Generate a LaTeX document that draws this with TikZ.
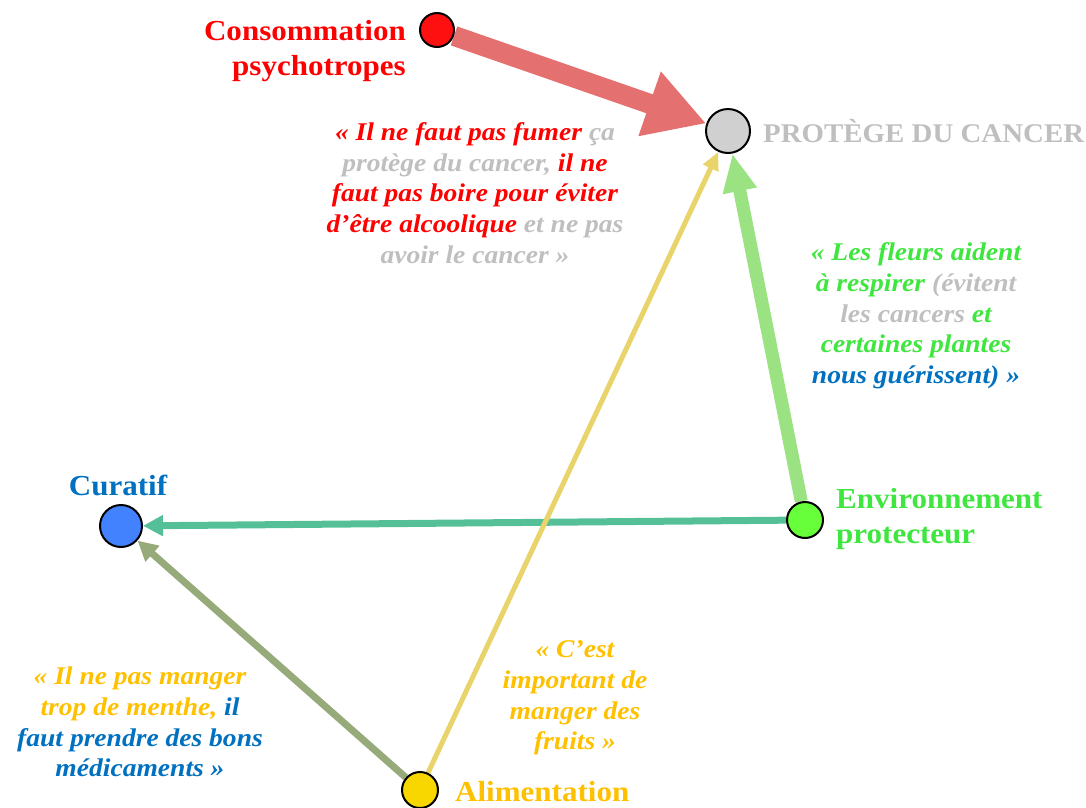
\documentclass[tikz,border=0pt]{standalone}
\usepackage{fontspec}
\setmainfont{Liberation Serif}
\newfontfamily\lblfont{Liberation Serif}[FakeStretch=1.07]
\newfontfamily\qfont{Liberation Serif}[FakeStretch=1.08]
\usetikzlibrary{arrows.meta,backgrounds}
\definecolor{tred}{HTML}{FF0000}
\definecolor{tgray}{HTML}{BFBFBF}
\definecolor{tgreen}{HTML}{40E640}
\definecolor{tblue}{HTML}{0070C0}
\definecolor{tgold}{HTML}{FFC000}
\definecolor{ared}{HTML}{E57070}
\definecolor{agreen}{HTML}{9AE282}
\definecolor{ayellow}{HTML}{E8D46A}
\definecolor{ateal}{HTML}{55C098}
\definecolor{aolive}{HTML}{96AA7A}
\definecolor{nred}{HTML}{FF1010}
\definecolor{ngray}{HTML}{D0D0D0}
\definecolor{nblue}{HTML}{4382FF}
\definecolor{ngreen}{HTML}{66FF3A}
\definecolor{nyellow}{HTML}{F8D600}
\begin{document}
\begin{tikzpicture}[x=1pt,y=-1pt,
  dot/.style={circle,draw=black,line width=2pt,inner sep=0pt},
  lbl/.style={font=\lblfont\bfseries\fontsize{29}{35}\selectfont,align=left,inner sep=0pt},
  quote/.style={font=\qfont\bfseries\itshape\fontsize{25.5}{30.7}\selectfont,align=center,inner sep=0pt},
  conn/.style={draw,line cap=butt}
]
\useasboundingbox (0,0) rectangle (1086,807);

% nodes
\node[dot,fill=nred,minimum size=34pt] (cons) at (437,30) {};
\node[dot,fill=ngray,minimum size=44pt] (prot) at (728,131) {};
\node[dot,fill=nblue,minimum size=42pt] (cur) at (121,526) {};
\node[dot,fill=ngreen,minimum size=36pt] (env) at (805,520) {};
\node[dot,fill=nyellow,minimum size=36pt] (alim) at (420,790) {};

% connectors
\begin{pgfonlayer}{background}
\draw[conn,ateal,line width=7pt,-{Triangle[length=20pt,width=20pt]}] (env) -- (cur);
\draw[conn,aolive,line width=7pt,-{Triangle[length=20pt,width=20pt]}] (alim) -- (cur);
\draw[conn,ayellow,line width=5pt,-{Triangle[length=18pt,width=16pt]}] (alim) -- (prot);
\draw[conn,agreen,line width=13pt,-{Triangle[length=38pt,width=32pt]}] (env) -- (prot);
\draw[conn,ared,line width=20pt,-{Triangle[length=60pt,width=64pt]}] (cons) -- (prot);
\end{pgfonlayer}

% labels
\node[lbl,text=tred,anchor=east,align=right] (lcons) at (406,51) {Consommation\\psychotropes};
\node[lbl,text=tgray,anchor=west,font=\lblfont\bfseries\fontsize{27}{33}\selectfont] (lprot) at (763,131) {PROTÈGE DU CANCER};
\node[lbl,text=tblue] (lcur) at (118,485) {Curatif};
\node[lbl,text=tgreen,anchor=west] (lenv) at (836,519) {Environnement\\protecteur};
\node[lbl,text=tgold,anchor=west] (lalim) at (455,792) {Alimentation};

% quotes
\node[quote] (q1) at (475,193) {%
\textcolor{tred}{« Il ne faut pas fumer} \textcolor{tgray}{ça}\\
\textcolor{tgray}{protège du cancer,} \textcolor{tred}{il ne}\\
\textcolor{tred}{faut pas boire pour éviter}\\
\textcolor{tred}{d’être alcoolique} \textcolor{tgray}{et ne pas}\\
\textcolor{tgray}{avoir le cancer »}};
\node[quote] (q2) at (916,316) {%
\textcolor{tgreen}{« Les fleurs aident}\\
\textcolor{tgreen}{à respirer} \textcolor{tgray}{(évitent}\\
\textcolor{tgray}{les cancers} \textcolor{tgreen}{et}\\
\textcolor{tgreen}{certaines plantes}\\
\textcolor{tblue}{nous guérissent) »}};
\node[quote] (q3) at (140,722) {%
\textcolor{tgold}{« Il ne pas manger}\\
\textcolor{tgold}{trop de menthe,} \textcolor{tblue}{il}\\
\textcolor{tblue}{faut prendre des bons}\\
\textcolor{tblue}{médicaments »}};
\node[quote,text=tgold] (q4) at (575,698) {« C’est\\important de\\manger des\\fruits »};
\end{tikzpicture}
\end{document}
